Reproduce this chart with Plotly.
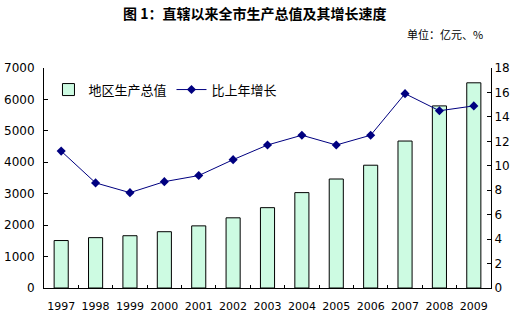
import plotly.graph_objects as go

years = ["1997", "1998", "1999", "2000", "2001", "2002", "2003",
         "2004", "2005", "2006", "2007", "2008", "2009"]
gdp = [1510, 1602, 1663, 1791, 1977, 2233, 2556, 3035, 3468, 3907, 4676, 5794, 6529]
growth = [11.2, 8.6, 7.8, 8.7, 9.2, 10.5, 11.7, 12.5, 11.7, 12.5, 15.9, 14.5, 14.9]

bar_name = "地区生产总值"
line_name = "比上年增长"
title_text = "图 1：直辖以来全市生产总值及其增长速度"
unit_text = "单位：亿元、%"

font_family = "Noto Sans CJK SC, DejaVu Sans, sans-serif"

fig = go.Figure()
fig.add_trace(go.Bar(
    x=years, y=gdp, name=bar_name,
    marker=dict(color="#cdfbe2", line=dict(color="#000000", width=1)),
    width=0.41, yaxis="y",
))
fig.add_trace(go.Scatter(
    x=years, y=growth, name=line_name, mode="lines+markers",
    line=dict(color="#000080", width=1),
    marker=dict(symbol="diamond", size=7, color="#000080"),
    yaxis="y2",
))

fig.update_layout(
    width=530, height=323,
    margin=dict(l=44, r=39, t=68, b=35),
    paper_bgcolor="white", plot_bgcolor="white",
    font=dict(family=font_family, size=12, color="#000000"),
    showlegend=True,
    legend=dict(orientation="h", x=0.01, y=0.97, xanchor="left", yanchor="top",
                bgcolor="rgba(0,0,0,0)", font=dict(size=13),
                itemwidth=30, tracegroupgap=0),
    bargap=0.59,
    xaxis=dict(
        type="category", showline=True, linecolor="#000000", linewidth=1,
        ticks="inside", ticklen=3, tickcolor="#000000",
        tickson="boundaries", showgrid=False, zeroline=False,
        tickangle=0, ticklabelstandoff=8, automargin=False,
        tickfont=dict(size=11, family="DejaVu Sans, sans-serif"),
        range=[-0.5, 12.5],
    ),
    yaxis=dict(
        range=[0, 7000], dtick=1000, showline=True, linecolor="#000000", linewidth=1,
        ticks="inside", ticklen=4, tickcolor="#000000", automargin=False,
        showgrid=False, zeroline=False, ticklabelstandoff=6,
        tickfont=dict(size=12, family="DejaVu Sans, sans-serif"),
    ),
    yaxis2=dict(
        range=[0, 18], dtick=2, overlaying="y", side="right",
        showline=True, linecolor="#000000", linewidth=1,
        ticks="inside", ticklen=4, tickcolor="#000000", automargin=False,
        showgrid=False, zeroline=False,
        tickfont=dict(size=12, family="DejaVu Sans, sans-serif"),
    ),
    annotations=[
        dict(text="<b>" + title_text + "</b>", xref="paper", yref="paper",
             x=0.47, y=1.0, yshift=55, xanchor="center", yanchor="middle",
             showarrow=False, font=dict(size=14, family=font_family)),
        dict(text=unit_text, xref="paper", yref="paper",
             x=1.0, y=1.0, yshift=34, xshift=-6, xanchor="right", yanchor="middle",
             showarrow=False, font=dict(size=11, family=font_family)),
    ],
)

fig.write_html("out.html")
